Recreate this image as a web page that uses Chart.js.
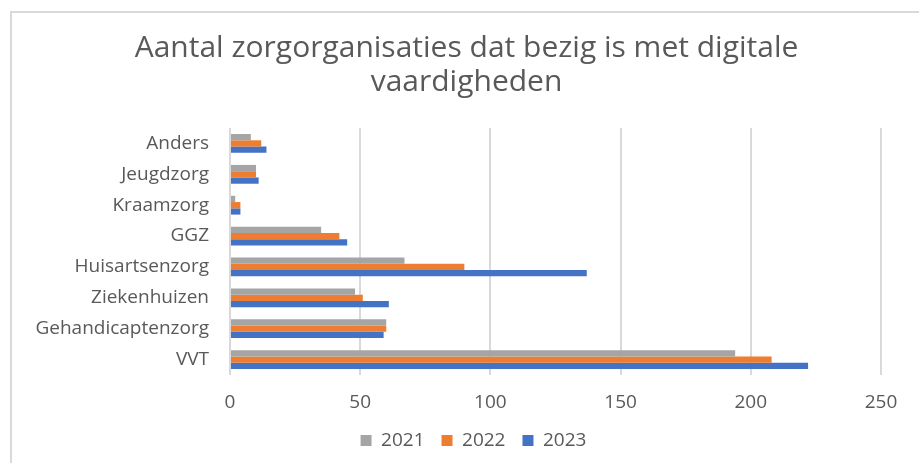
<!DOCTYPE html>
<html>
<head>
<meta charset="utf-8">
<script src="https://cdn.jsdelivr.net/npm/chart.js@4/dist/chart.umd.min.js"></script>
<style>
    html, body { margin: 0; padding: 0; background: #fff; overflow: hidden; }
    #frame { position: absolute; left: 10px; top: 11px; width: 1000px; height: 500px; border-left: 2px solid #d9d9d9; border-top: 2px solid #d9d9d9; }
    #wrap { position: absolute; left: 0; top: 0; width: 919px; height: 463px; }
</style>
</head>
<body>
<div id="frame"></div>
<div id="wrap"><canvas id="chart" width="919" height="463"></canvas></div>
<script>
    // ===== data =====
    var categories = ['Anders', 'Jeugdzorg', 'Kraamzorg', 'GGZ', 'Huisartsenzorg', 'Ziekenhuizen', 'Gehandicaptenzorg', 'VVT'];
    var years = ['2021', '2022', '2023'];
    var values2021 = [8, 10, 2, 35, 67, 48, 60, 194];
    var values2022 = [12, 10, 4, 42, 90, 51, 60, 208];
    var values2023 = [14, 11, 4, 45, 137, 61, 59, 222];
    var xTicks = [0, 50, 100, 150, 200, 250];
    var titleLines = ['Aantal zorgorganisaties dat bezig is met digitale', 'vaardigheden'];

    var COLORS = { gray: '#a5a5a5', orange: '#ed7d31', blue: '#4472c4', text: '#595959', grid: '#d9d9d9' };
    var FONT = 'Open Sans';

    function makeSet(label, data, color) {
        return { label: label, data: data, backgroundColor: color, borderWidth: 0, categoryPercentage: 0.61, barPercentage: 1.0 };
    }

    // title and legend are centred on the whole frame in the original, not on 0..plot right
    var shiftBoxes = {
        id: 'shiftBoxes',
        afterLayout: function(chart) {
            if (chart.titleBlock) { chart.titleBlock.left += 26; chart.titleBlock.right += 26; }
            if (chart.legend) { chart.legend.left += 33; chart.legend.right += 33; }
        }
    };

    new Chart(document.getElementById('chart'), {
        type: 'bar',
        data: {
            labels: categories,
            datasets: [
                makeSet(years[0], values2021, COLORS.gray),
                makeSet(years[1], values2022, COLORS.orange),
                makeSet(years[2], values2023, COLORS.blue)
            ]
        },
        options: {
            indexAxis: 'y',
            responsive: false,
            animation: false,
            layout: { padding: { top: 0, right: 38, bottom: 3, left: 0 } },
            plugins: {
                title: {
                    display: true, text: titleLines, color: COLORS.text,
                    font: { family: FONT, size: 30, weight: 'normal', lineHeight: 34 / 30 },
                    padding: { top: 31, bottom: 29 }
                },
                legend: {
                    position: 'bottom',
                    labels: { color: COLORS.text, boxWidth: 11, boxHeight: 11, padding: 17, font: { family: FONT, size: 19 } }
                },
                tooltip: { enabled: false }
            },
            scales: {
                x: {
                    min: 0, max: 250,
                    afterBuildTicks: function(axis) { axis.ticks = xTicks.map(function(v) { return { value: v }; }); },
                    afterFit: function(axis) { axis.height = 39; },
                    grid: { color: COLORS.grid, lineWidth: 2, drawTicks: false },
                    border: { display: false },
                    ticks: { color: COLORS.text, padding: 16, font: { family: FONT, size: 19 } }
                },
                y: {
                    afterFit: function(axis) { axis.width = 230; },
                    grid: { display: false, drawTicks: false },
                    border: { display: false },
                    ticks: { color: COLORS.text, padding: 21, font: { family: FONT, size: 19 } }
                }
            }
        },
        plugins: [shiftBoxes]
    });
</script>
</body>
</html>
